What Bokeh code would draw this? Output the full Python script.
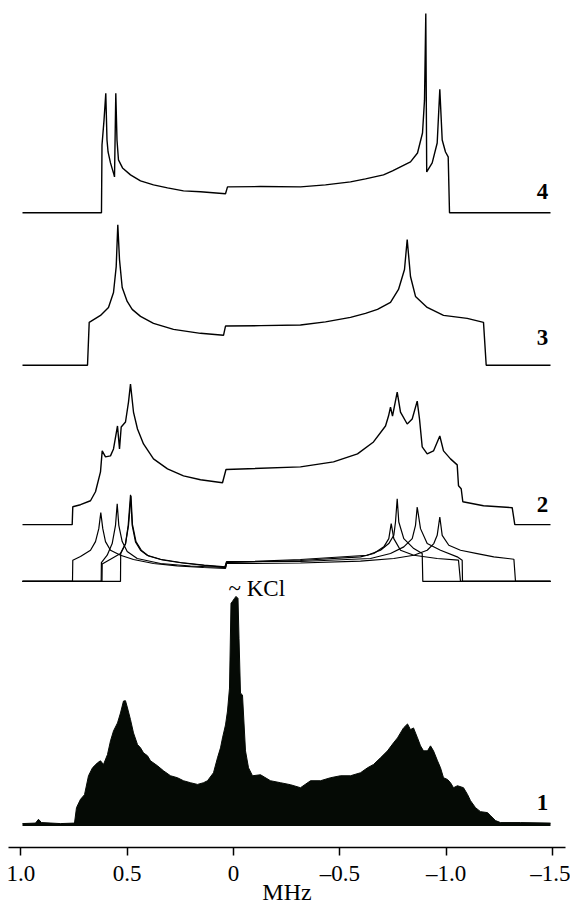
from bokeh.plotting import figure
from bokeh.models import Range1d, FixedTicker, Label
from bokeh.embed import file_html
from bokeh.resources import INLINE

# ---------------- data (frequency in MHz, intensity in arbitrary units) ----------------
# trace 4 (simulation)
t4_x = [0.9925, 0.621, 0.6185, 0.609, 0.6007, 0.595, 0.590, 0.5786, 0.562, 0.5597, 0.5536, 0.548,
        0.541, 0.522, 0.4845, 0.4374, 0.3763, 0.3104, 0.2352, 0.1552, 0.0376, 0.0282, -0.127,
        -0.3151, -0.4327, -0.5503, -0.6209, -0.7055, -0.7479, -0.7855, -0.8325, -0.8655, -0.889,
        -0.8984, -0.9045, -0.9088, -0.9346, -0.9581, -0.9704, -0.9817, -0.9972, -1.0099,
        -1.0160, -1.4911]
t4_y = [0, 0, 68, 93, 120, 73, 61, 50, 38, 36, 120, 73, 53, 45, 38, 32, 28, 25, 22, 21, 19, 26,
        26.3, 26, 28, 31, 34, 38, 42, 46, 51, 60, 80, 113, 200, 41, 50, 70, 124, 73, 61, 56, 0, 0]

# trace 3 (simulation)
t3_x = [0.9925, 0.6867, 0.6787, 0.6256, 0.588, 0.5644, 0.5517, 0.5442, 0.5362, 0.5235, 0.5,
        0.4765, 0.4374, 0.3763, 0.2822, 0.1552, 0.047, 0.0376, -0.127, -0.3151, -0.4327,
        -0.5503, -0.6209, -0.6773, -0.7385, -0.7761, -0.8043, -0.817, -0.8325, -0.8561,
        -0.9111, -0.9878, -1.0992, -1.1759, -1.1886, -1.4911]
t3_y = [0, 0, 43, 50, 58, 73, 99, 141, 106, 78, 64, 56, 49, 42, 36, 32, 30, 39.3, 39.7, 40.3,
        43.5, 48, 52, 56, 63, 76, 96, 126, 89, 69, 58, 50, 47, 43, 0, 0]

# trace 2 (sum of the four sites)
t2_x = [0.9925, 0.7587, 0.7559, 0.7197, 0.6726, 0.6491, 0.6256, 0.6176, 0.6021, 0.5786, 0.5644,
        0.5456, 0.5362, 0.5282, 0.508, 0.4939, 0.4845, 0.4704, 0.4516, 0.4233, 0.3763, 0.3104,
        0.2352, 0.1552, 0.0517, 0.0353, -0.3151, -0.4704, -0.5833, -0.6585, -0.715, -0.7291,
        -0.7385, -0.7479, -0.77, -0.7855, -0.817, -0.8405, -0.8641, -0.8749, -0.8876, -0.9111,
        -0.9407, -0.9704, -0.9878, -1.0207, -1.0522, -1.0583, -1.0710, -1.0786, -1.1759,
        -1.3109, -1.3231, -1.4911]
t2_y = [0, 0, 18, 20, 24, 33, 53, 74, 68, 69, 76, 99, 76, 98, 103, 123, 141, 113, 96, 81, 66, 56,
        49, 45, 42, 55.3, 58, 63, 71, 83, 99, 109, 118, 109, 133, 113, 101, 106, 124, 106, 78,
        71, 74, 89, 74, 66, 60, 39, 36, 23, 19, 17, 0, 0]

# trace 2 components (four sites)
cA_x = [0.9925, 0.7573, 0.7559, 0.7197, 0.6726, 0.6491, 0.6336, 0.6242, 0.6148, 0.6021, 0.5786,
        0.5315, 0.4704, 0.3763, 0.2648, 0.1411, 0.0376, 0.0329, -0.3151, -0.5974, -0.754,
        -0.8481, -0.9111, -0.9422, -0.9581, -0.9704, -0.9817, -1.0127, -1.0677, -1.1463,
        -1.2244, -1.3189, -1.3264, -1.4911]
cA_y = [0, 0, 21.3, 25, 31.3, 40, 53, 69, 53, 40, 31.3, 26.3, 22, 18, 15.7, 14, 13, 18, 18.5,
        20.3, 23, 26.3, 31.3, 38, 46.3, 64.7, 46.3, 36.3, 31.3, 28, 24.7, 22.3, 0, 0]

cB_x = [0.9925, 0.6223, 0.6213, 0.5941, 0.5706, 0.555, 0.547, 0.5395, 0.5235, 0.5, 0.453, 0.3434,
        0.2023, 0.0423, 0.0329, -0.3151, -0.5974, -0.6599, -0.707, -0.7305, -0.7418, -0.754,
        -0.7855, -0.8481, -0.9581, -1.0583, -1.0677, -1.4911]
cB_y = [0, 0, 19, 26.3, 38, 56.3, 78, 56.3, 40, 30, 23, 18, 15.5, 14, 19, 21, 24.7, 28, 34.7, 43,
        58, 43, 31.3, 26.3, 23, 21.3, 0, 0]

cC_x = [0.9925, 0.6185, 0.6176, 0.5786, 0.5315, 0.508, 0.4953, 0.4845, 0.4765, 0.461, 0.4374,
        0.4059, 0.3434, 0.2493, 0.1397, 0.0376, 0.0329, -0.3151, -0.6444, -0.7385, -0.8011,
        -0.8406, -0.8561, -0.8641, -0.8796, -0.9111, -0.9737, -1.0522, -1.0757, -1.0771, -1.4911]
cC_y = [0, 0, 17.5, 22.3, 28, 38, 56.3, 87, 56.3, 39.7, 31.3, 26.3, 22.3, 19, 16.3, 14.7, 20, 20,
        23, 28, 34.7, 43, 56.3, 74.7, 53, 38, 31.3, 24.7, 21.3, 0, 0]

cD_x = [0.9925, 0.5315, 0.5306, 0.508, 0.4939, 0.4821, 0.4751, 0.4586, 0.4327, 0.3998, 0.334,
        0.2399, 0.1317, 0.0376, 0.0329, -0.3151, -0.6289, -0.6914, -0.7305, -0.754, -0.762,
        -0.77, -0.7775, -0.801, -0.8481, -0.8876, -0.8904, -1.4911]
cD_y = [0, 0, 28, 37.5, 56, 86, 57, 40, 31, 25.5, 21.5, 18.5, 16, 14.2, 19, 22, 26.3, 31.3, 38,
        46.3, 59.7, 83, 59.7, 43, 33, 28, 0, 0]

# trace 1 (experimental spectrum, upper envelope)
t1_x = [0.9925, 0.9313, 0.9172, 0.9031, 0.8137, 0.7479, 0.7385, 0.7197, 0.7008, 0.682,
        0.6632, 0.6397, 0.6256, 0.6115, 0.5927, 0.5786, 0.5644, 0.5456, 0.5315, 0.5174,
        0.508, 0.4986, 0.4845, 0.4704, 0.4516, 0.4374, 0.4233, 0.4045, 0.3904, 0.3575,
        0.3293, 0.2963, 0.2634, 0.2352, 0.2023, 0.1693, 0.1411, 0.1223, 0.0941, 0.0753,
        0.0611, 0.0517, 0.0376, 0.0282, 0.0188, 0.0118, 0.0047, -0.0047, -0.0118, -0.0212,
        -0.0259, -0.0329, -0.0423, -0.0564, -0.0706, -0.0894, -0.127, -0.174, -0.2211, -0.2681,
        -0.3151, -0.3622, -0.4092, -0.4563, -0.5033, -0.5503, -0.5974, -0.6303, -0.6585, -0.6914,
        -0.7244, -0.7526, -0.7714, -0.7996, -0.8184, -0.8325, -0.8467, -0.8655, -0.8796, -0.8937,
        -0.9125, -0.9266, -0.9407, -0.9596, -0.9737, -0.9878, -1.0066, -1.0207, -1.0348, -1.0536,
        -1.0818, -1.1006, -1.1148, -1.1383, -1.1618, -1.1947, -1.2088, -1.2324, -1.2559, -1.35,
        -1.4911]
t1_y = [1, 1.5, 5.3, 2, 1, 1.5, 17, 25.3, 30, 49,
        57, 62, 64, 60.3, 70.3, 84, 94, 102, 112, 124,
        124.3, 117, 105.3, 92, 80.3, 77, 72, 69, 64, 59,
        54, 49, 47, 44, 42, 40.3, 42, 44, 52, 67,
        77, 87, 100, 114, 137, 222, 224, 227, 229, 227,
        187, 132, 130, 74, 57, 49, 50, 44, 42, 40,
        37, 44, 44, 47, 49, 49, 52, 57, 60.3, 67,
        74, 82, 87, 97, 101, 95.3, 97, 87, 79, 74,
        74, 79, 74, 64, 57, 47, 45.3, 42, 37, 39,
        37, 30.3, 24, 17, 13, 12, 9, 4, 2, 2, 1.5]

tick_values = [1.0, 0.5, 0.0, -0.5, -1.0, -1.5]
tick_labels = ["1.0", "0.5", "0", "\u20130.5", "\u20131.0", "\u20131.5"]
trace_names = ["4", "3", "2", "1"]

# vertical offsets of the stacked traces
off4, off3, off2, offc, off1 = 637, 484, 324, 267, 23

FONT = "Liberation Serif"

p = figure(width=570, height=907, x_range=Range1d(1.0583, -1.5616), y_range=Range1d(0, 850),
           output_backend="svg", toolbar_location=None, y_axis_location=None,
           min_border_left=8, min_border_right=5, min_border_top=0, min_border_bottom=57)
p.grid.visible = False
p.outline_line_color = None

LW = 1.4
p.line(t4_x, [y + off4 for y in t4_y], color="black", line_width=LW)
p.line(t3_x, [y + off3 for y in t3_y], color="black", line_width=LW)
p.line(t2_x, [y + off2 for y in t2_y], color="black", line_width=LW)
for cx, cy in [(cA_x, cA_y), (cB_x, cB_y), (cC_x, cC_y), (cD_x, cD_y)]:
    p.line(cx, [y + offc for y in cy], color="black", line_width=1.2)

p.varea(x=t1_x, y1=[off1 - 1.5] * len(t1_x), y2=[y + off1 for y in t1_y], fill_color="#050a05")
p.line(t1_x, [y + off1 for y in t1_y], color="#050a05", line_width=1)

# trace numbers
label_y = [off4 + 21, off3 + 28, off2 + 20, off1 + 22]
for name, ly in zip(trace_names, label_y):
    p.add_layout(Label(x=-1.4534, y=ly, text=name, text_font=FONT, text_font_style="bold",
                       text_font_size="23px", text_align="center", text_baseline="middle",
                       text_color="black"))

p.add_layout(Label(x=0.0235, y=off1 + 237, text="~ KCl", text_font=FONT,
                   text_font_size="23px", text_align="left", text_baseline="middle",
                   text_color="black"))

ax = p.xaxis[0]
ax.ticker = FixedTicker(ticks=tick_values)
ax.major_label_overrides = {v: s for v, s in zip(tick_values, tick_labels)}
ax.minor_tick_line_color = None
ax.major_tick_out = 8
ax.major_tick_in = 0
ax.axis_line_width = 1.5
ax.axis_line_color = "black"
ax.major_tick_line_width = 1.5
ax.major_tick_line_color = "black"
ax.major_label_text_font = FONT
ax.major_label_text_font_size = "23px"
ax.major_label_text_color = "black"
ax.major_label_standoff = 5
ax.axis_label = "MHz"
ax.axis_label_text_font = FONT
ax.axis_label_text_font_size = "24px"
ax.axis_label_text_font_style = "normal"
ax.axis_label_text_color = "black"
ax.axis_label_standoff = -10

open("out.html", "w").write(file_html(p, INLINE))
